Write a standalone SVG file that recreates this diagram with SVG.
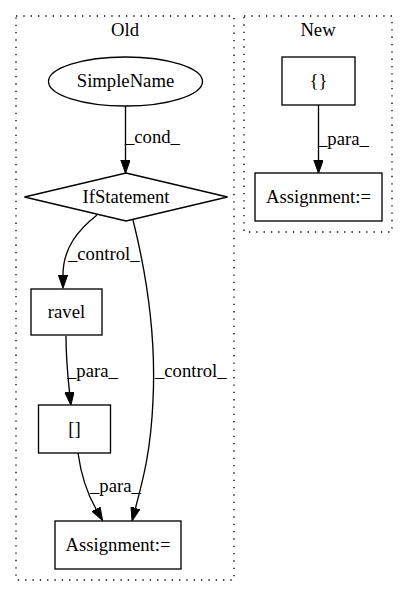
<svg xmlns="http://www.w3.org/2000/svg" width="408" height="596" viewBox="0 0 408 596" font-family="'Liberation Serif', 'DejaVu Serif', serif" font-size="18.67">
<defs>
<marker id="arr" markerUnits="userSpaceOnUse" markerWidth="14" markerHeight="10" refX="0" refY="4.67" orient="auto">
<path d="M0,0 L13.3,4.67 L0,9.33 z" fill="#000" stroke="#000" stroke-width="1"/>
</marker>
<style>
text{font-family:'Liberation Serif','DejaVu Serif',serif;font-size:18.67px;fill:#000}
.c{text-anchor:middle}
.cl{fill:none;stroke:#000;stroke-width:1.33;stroke-dasharray:1.33,6}
.n{fill:#fff;stroke:#000;stroke-width:1.33}
.e{fill:none;stroke:#000;stroke-width:1.33;marker-end:url(#arr)}
</style>
</defs>
<rect width="408" height="596" fill="#fff"/>
<g id="cluster_old">
<rect class="cl" x="16" y="16" width="218" height="564"/>
<text class="c" x="125" y="36">Old</text>
</g>
<g id="cluster_new">
<rect class="cl" x="244" y="16" width="148" height="216"/>
<text class="c" x="318" y="36">New</text>
</g>
<g id="edges">
<path class="e" d="M125.5,106 L125.5,160"/>
<text x="125" y="143">_cond_</text>
<path class="e" d="M97,215 C78,230 63,248 63,275"/>
<text x="68" y="260">_control_</text>
<path class="e" d="M133,220 C148,280 156,340 153,400 C151,450 143,480 135.5,508"/>
<text x="155" y="377">_control_</text>
<path class="e" d="M66,336 C66,360 68,378 69.5,392"/>
<text x="67" y="377">_para_</text>
<path class="e" d="M78,453 C81,475 88,495 96,509"/>
<text x="90" y="492">_para_</text>
<path class="e" d="M318.5,105 L318.5,160"/>
<text x="318" y="145">_para_</text>
</g>
<g id="SimpleName">
<ellipse class="n" cx="125.5" cy="81.5" rx="77" ry="24.5"/>
<text class="c" x="125.5" y="87">SimpleName</text>
</g>
<g id="IfStatement">
<polygon class="n" points="126,173 227.5,197 126,221 24.5,197"/>
<text class="c" x="126" y="203">IfStatement</text>
</g>
<g id="ravel">
<rect class="n" x="31" y="289" width="71" height="46"/>
<text class="c" x="66.5" y="318">ravel</text>
</g>
<g id="index">
<rect class="n" x="38.5" y="405" width="72" height="48"/>
<text class="c" x="74.5" y="435">[]</text>
</g>
<g id="Assignment_old">
<rect class="n" x="55" y="521" width="126" height="48"/>
<text class="c" x="118" y="551">Assignment:=</text>
</g>
<g id="braces">
<rect class="n" x="282" y="57" width="73" height="48"/>
<text class="c" x="318.5" y="87">{}</text>
</g>
<g id="Assignment_new">
<rect class="n" x="255" y="173" width="127" height="48"/>
<text class="c" x="318.5" y="203">Assignment:=</text>
</g>
</svg>
